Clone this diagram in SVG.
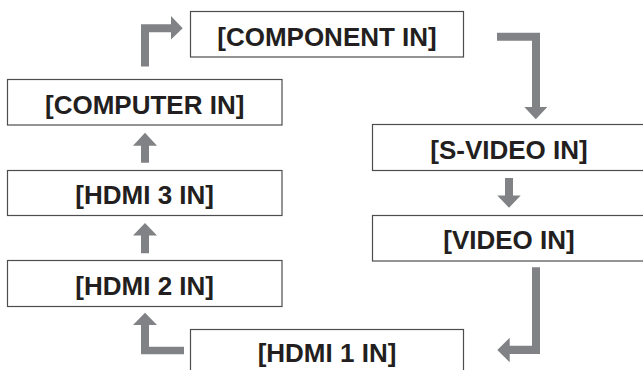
<svg xmlns="http://www.w3.org/2000/svg" width="643" height="370" viewBox="0 0 643 370">
<style>
.box{fill:#fff;stroke:#4d4d4f;stroke-width:1.2}
.lbl{font-family:"Liberation Sans",Arial,sans-serif;font-weight:bold;font-size:26px;fill:#231f20;text-anchor:middle}
.arr{fill:#808285;stroke:none}
</style>
<rect width="643" height="370" fill="#fff"/>
<g id="connectors">
<!-- COMPUTER -> COMPONENT -->
<polygon class="arr" points="141,66.5 141,24.3 171,24.3 171,16 182.7,28.3 171,39.5 171,32.3 149,32.3 149,66.5"/>
<!-- HDMI3 -> COMPUTER -->
<polygon class="arr" points="141,162.7 141,145.7 133,145.7 145,132.7 157,145.7 149,145.7 149,162.7"/>
<!-- HDMI2 -> HDMI3 -->
<polygon class="arr" points="141,253.3 141,235.5 133,235.5 145,223 157,235.5 149,235.5 149,253.3"/>
<!-- HDMI1 -> HDMI2 -->
<polygon class="arr" points="184,346.7 184,354.3 141,354.3 141,325 133,325 145,312.7 157,325 149,325 149,346.7"/>
<!-- COMPONENT -> S-VIDEO -->
<polygon class="arr" points="497,32.7 540,32.7 540,107 547.3,107 535.8,119.3 524.3,107 532,107 532,40.7 497,40.7"/>
<!-- S-VIDEO -> VIDEO -->
<polygon class="arr" points="505,178 513,178 513,195.5 520.7,195.5 509,207.7 497.3,195.5 505,195.5"/>
<!-- VIDEO -> HDMI1 -->
<polygon class="arr" points="532,267.3 540,267.3 540,354 509.7,354 509.7,362.3 497.3,350 509.7,337.7 509.7,345.7 532,345.7"/>
</g>
<g id="component"><rect class="box" x="190.5" y="11.5" width="273" height="45.5"/><text class="lbl" x="327" y="45.5">[COMPONENT IN]</text></g>
<g id="computer"><rect class="box" x="7.5" y="79.5" width="274.5" height="45.5"/><text class="lbl" x="144.7" y="113.5">[COMPUTER IN]</text></g>
<g id="hdmi3"><rect class="box" x="7.5" y="170.5" width="274.5" height="45"/><text class="lbl" x="144.7" y="204">[HDMI 3 IN]</text></g>
<g id="hdmi2"><rect class="box" x="7.5" y="260.5" width="274.5" height="46"/><text class="lbl" x="144.7" y="294.5">[HDMI 2 IN]</text></g>
<g id="hdmi1"><rect class="box" x="190.5" y="329.5" width="273" height="46"/><text class="lbl" x="327" y="361.5">[HDMI 1 IN]</text></g>
<g id="svideo"><rect class="box" x="372.5" y="124.5" width="274" height="46"/><text class="lbl" x="509" y="158.5">[S-VIDEO IN]</text></g>
<g id="video"><rect class="box" x="372.5" y="215.5" width="274" height="45.5"/><text class="lbl" x="509" y="249">[VIDEO IN]</text></g>
</svg>
